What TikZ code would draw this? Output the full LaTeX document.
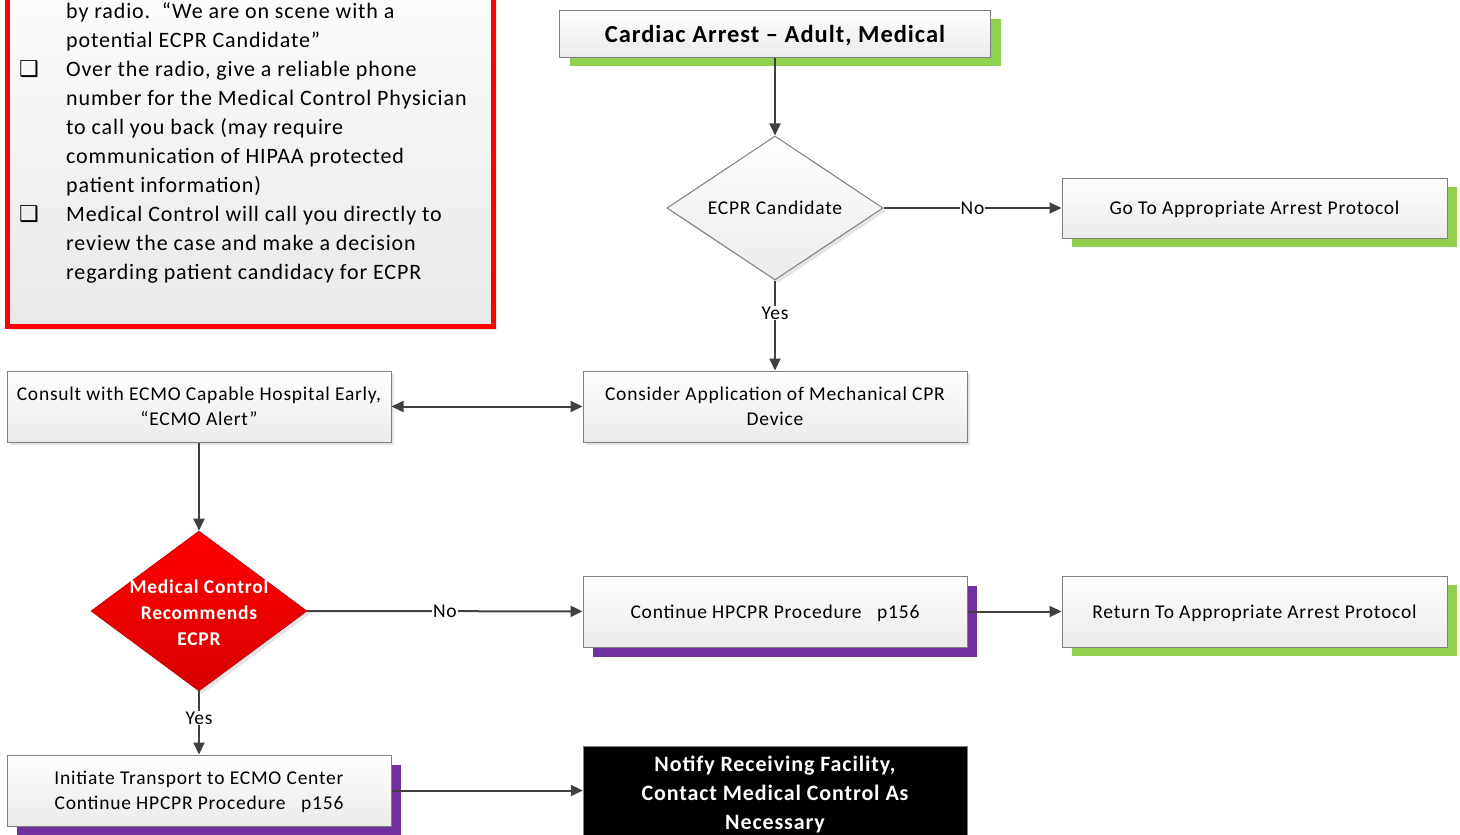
\documentclass[tikz,border=0pt]{standalone}
\usepackage{fontspec}
\setmainfont{Carlito}[LetterSpace=4]
\newfontfamily\djv{DejaVu Sans}
\usetikzlibrary{shapes.geometric,shadows,arrows.meta}
\definecolor{sgreen}{HTML}{92D050}
\definecolor{spurple}{HTML}{7030A0}
\definecolor{lnk}{HTML}{404040}
\definecolor{bord}{HTML}{7F7F7F}
\definecolor{redfill}{HTML}{FF0000}
\begin{document}
\begin{tikzpicture}[x=1pt,y=-1pt,
  gshad/.style={general shadow={fill=black!30, opacity=0.35, shadow xshift=3pt, shadow yshift=-3pt}},
  box/.style={draw=bord, line width=1pt, top color=white, bottom color=black!8,
    minimum width=384pt, minimum height=71pt, align=center, inner sep=0pt, text depth=0pt,
    font=\fontsize{19.5}{25}\selectfont},
  plainbox/.style={box, gshad},
  greenbox/.style={box, general shadow={fill=sgreen, shadow xshift=10pt, shadow yshift=-9pt}},
  purplebox/.style={box, general shadow={fill=spurple, shadow xshift=10pt, shadow yshift=-10pt}},
  ddiam/.style={diamond, draw=bord, line width=1pt, top color=white, bottom color=black!8,
    minimum width=216pt, minimum height=144pt, inner sep=0pt, gshad},
  arr/.style={draw=lnk, line width=2pt, -{Triangle[length=12pt,width=11pt]}},
  darr/.style={draw=lnk, line width=2pt, {Triangle[length=12pt,width=11pt]}-{Triangle[length=12pt,width=11pt]}},
  lbl/.style={fill=white, inner sep=1pt, text=black, font=\fontsize{19.5}{22}\selectfont},
  chk/.style={inner sep=0pt, font=\djv\bfseries\fontsize{22}{22}\selectfont},
]
\clip (0,0) rectangle (1460,835);
\fill[white] (0,0) rectangle (1460,835);

% red information box
\node[draw=red, line width=5pt, top color=white, bottom color=black!9,
      minimum width=486pt, minimum height=386pt, inner sep=0pt, gshad]
      (info) at (250.5,133.5) {};
\node[anchor=north west, inner sep=0pt, align=left, font=\fontsize{22}{29}\selectfont]
  (infotext) at (66,2) {by radio.\ \ “We are on scene with a\\
potential ECPR Candidate”\\
Over the radio, give a reliable phone\\
number for the Medical Control Physician\\
to call you back (may require\\
communication of HIPAA protected\\
patient information)\\
Medical Control will call you directly to\\
review the case and make a decision\\
regarding patient candidacy for ECPR};
\node[chk] (chk1) at (29,69) {❑};
\node[chk] (chk2) at (29,214) {❑};

% top row
\node[greenbox, minimum width=431pt, minimum height=47pt,
      font=\bfseries\fontsize{24.5}{28}\selectfont] (title) at (775,33.5) {Cardiac Arrest – Adult, Medical};
\node[ddiam] (cand) at (775,208) {};
\node[font=\fontsize{19.5}{22}\selectfont, text depth=0pt] (candtext) at (775,208) {ECPR Candidate};
\node[greenbox, minimum width=385pt, minimum height=60pt] (goto) at (1254.5,208) {Go To Appropriate Arrest Protocol};

% middle row
\node[plainbox] (consider) at (775,406.5) {Consider Application of Mechanical CPR\\Device};
\node[plainbox] (consult) at (199,406.5) {Consult with ECMO Capable Hospital Early,\\“ECMO Alert”};

\node[diamond, draw=red!75!black, line width=0.6pt, top color=redfill, bottom color=red!85!black,
      minimum width=216pt, minimum height=160pt, inner sep=0pt, gshad] (rdiam) at (199,611) {};
\node[align=center, text=white, font=\bfseries\fontsize{19.5}{26}\selectfont] (rdtext) at (199,613)
  {Medical Control\\Recommends\\ECPR};
\node[purplebox] (cont) at (775,611.5) {Continue HPCPR Procedure \ \ p156};
\node[greenbox, minimum width=385pt] (ret) at (1254.5,611.5) {Return To Appropriate Arrest Protocol};

% bottom row
\node[purplebox] (init) at (199,790.5) {Initiate Transport to ECMO Center\\Continue HPCPR Procedure \ \ p156};
\node[draw=bord, fill=black, minimum width=384pt, minimum height=96pt, inner sep=0pt, align=center,
      text=white, font=\bfseries\fontsize{22}{29}\selectfont] (notify) at (775,794)
  {Notify Receiving Facility,\\Contact Medical Control As\\Necessary};

% connectors
\draw[arr] (title) -- (cand);
\draw[arr] (cand) -- node[lbl]{No} (goto);
\draw[arr] (cand) -- node[lbl, pos=0.36]{Yes} (consider);
\draw[darr] (consult) -- (consider);
\draw[arr] (consult) -- (rdiam);
\draw[arr] (rdiam) -- node[lbl]{No} (cont);
\draw[arr] (cont) -- (ret);
\draw[arr] (rdiam) -- node[lbl, pos=0.42]{Yes} (init);
\draw[arr] (init.east) -- (init.east -| notify.west);
\end{tikzpicture}
\end{document}
